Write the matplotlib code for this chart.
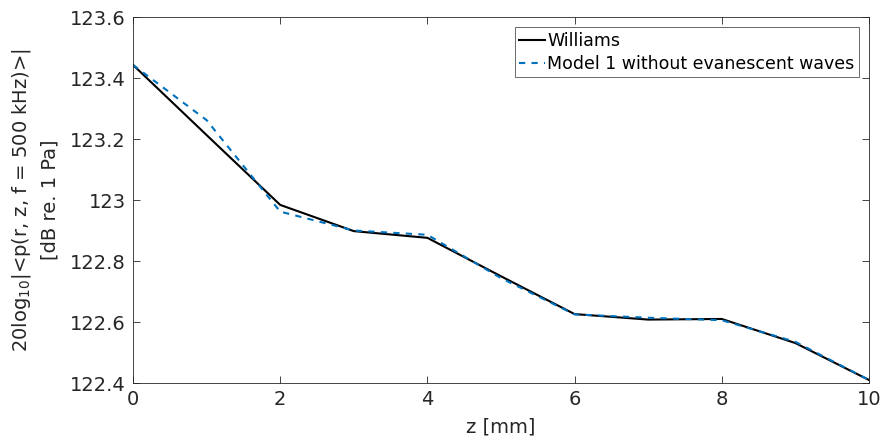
import numpy as np
import matplotlib.pyplot as plt

z = [0, 1, 2, 3, 4, 5, 6, 7, 8, 9, 10]
williams = [123.443, 123.213, 122.984, 122.898, 122.876, 122.750, 122.626, 122.608, 122.610, 122.531, 122.410]
model1 = [123.443, 123.262, 122.962, 122.900, 122.886, 122.744, 122.625, 122.614, 122.606, 122.535, 122.410]

plt.rcParams['font.family'] = 'DejaVu Sans'
axc = '#262626'

fig = plt.figure(figsize=(8.83, 4.43), dpi=100)
ax = fig.add_axes([0.1506, 0.1354, 0.8335, 0.8262])

ax.plot(z, williams, color='black', lw=1.5, label='Williams')
ax.plot(z, model1, color='#0072BD', lw=1.5, ls=(0, (3, 3)), label='Model 1 without evanescent waves')

ax.set_xlim(0, 10)
ax.set_ylim(122.4, 123.6)
ax.set_xticks([0, 2, 4, 6, 8, 10])
ax.set_yticks([122.4, 122.6, 122.8, 123, 123.2, 123.4, 123.6])
ax.set_yticklabels(['122.4', '122.6', '122.8', '123', '123.2', '123.4', '123.6'])
ax.tick_params(direction='in', top=True, right=True, labelsize=14, colors=axc, length=5, width=0.6, pad=5)
for s in ax.spines.values():
    s.set_color(axc)
    s.set_linewidth(0.6)

ax.set_xlabel('z [mm]', fontsize=14, color=axc, labelpad=6)
ax.set_ylabel('20log$_{10}$|<p(r, z, f = 500 kHz)>|\n[dB re. 1 Pa]', fontsize=14, color=axc,
              labelpad=8, linespacing=1.5)

leg = ax.legend(loc='upper right', fontsize=12.5, frameon=True, fancybox=False,
                edgecolor=axc, handlelength=1.5, handletextpad=0.1, borderpad=0.25,
                labelspacing=0.3, borderaxespad=0.6)
leg.get_frame().set_linewidth(0.6)

fig.savefig('out.png', dpi=100)
